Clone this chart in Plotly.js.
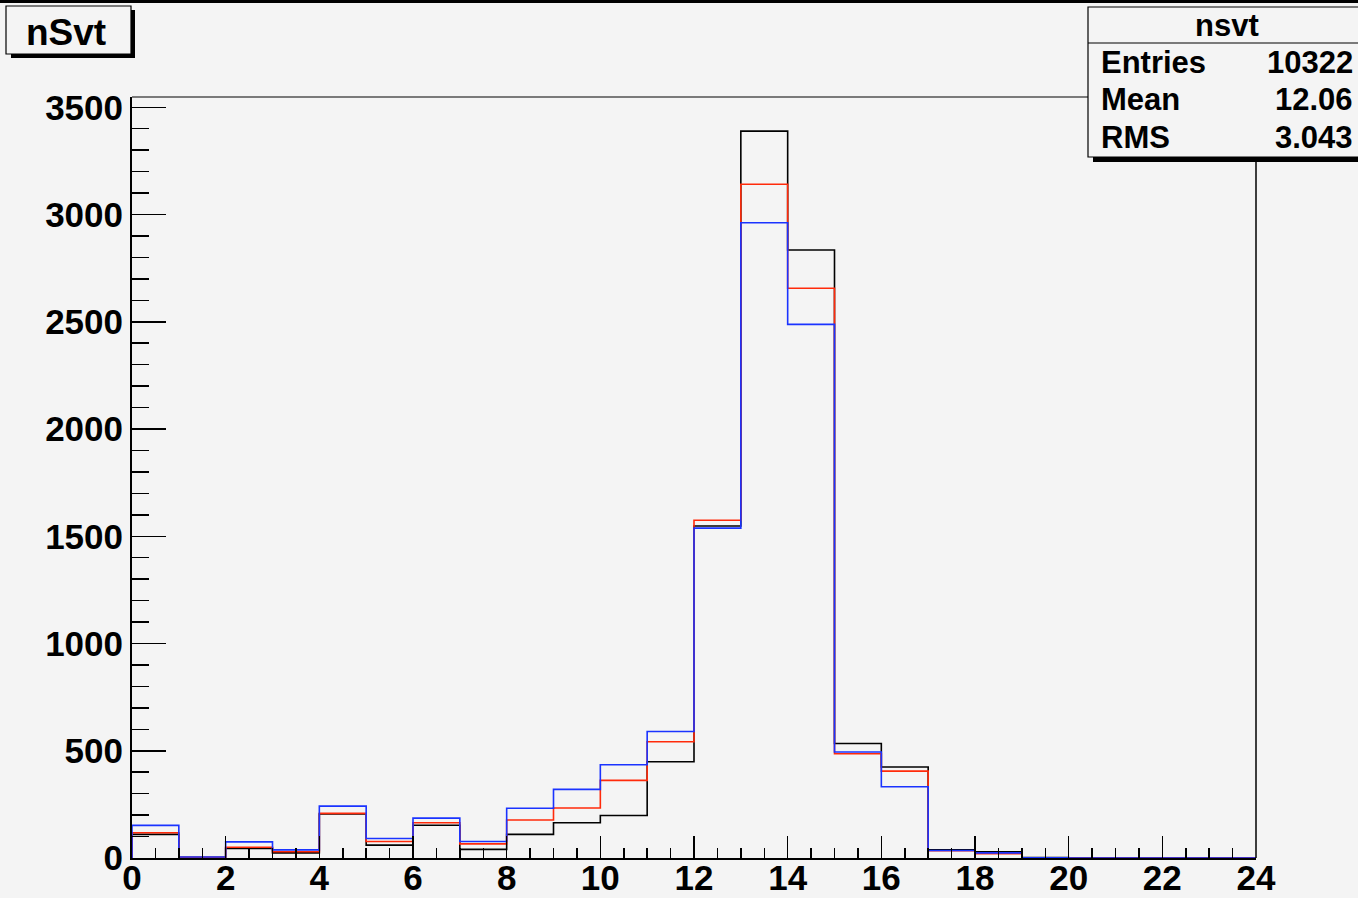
<!DOCTYPE html>
<html>
<head>
<meta charset="utf-8">
<script src="https://cdn.plot.ly/plotly-3.0.1.min.js"></script>
<style>html,body{margin:0;padding:0;background:#f4f4f4;}#chart{width:1358px;height:898px;}</style>
</head>
<body>
<div id="chart"></div>
<script>
// Bin edges (nSvt), 24 unit-width bins from 0 to 24
const binEdges = [0,1,2,3,4,5,6,7,8,9,10,11,12,13,14,15,16,17,18,19,20,21,22,23,24];
// Bin contents
const blackCounts = [110,2,45,24,205,60,153,40,110,164,198,449,1548,3389,2835,534,424,38,29,2,0,0,0,0];
const redCounts   = [118,3,50,29,208,77,164,66,177,233,362,542,1575,3141,2656,486,405,34,20,1,0,0,0,0];
const blueCounts  = [152,5,75,38,242,91,186,77,232,320,435,590,1538,2962,2488,494,332,35,24,1,0,0,0,0];
const seriesColors = ['#000000', '#ff2a0a', '#1a33ff'];
// Stat box
const statTitle = 'nsvt';
const statLabels = ['Entries', 'Mean', 'RMS'];
const statValues = ['10322', '12.06', '3.043'];
const histTitle = 'nSvt';

const W = 1358, H = 898;
const M = {l: 132, r: 102, t: 97, b: 40};
const PW = W - M.l - M.r, PH = H - M.t - M.b;
const px = p => (p - M.l) / PW;
const py = p => (H - M.b - p) / PH;

function stepTrace(counts, color) {
  const n = counts.length;
  const x = [binEdges[0]].concat(binEdges.slice(0, n)).concat([binEdges[n], binEdges[n]]);
  const y = [0].concat(counts).concat([counts[n - 1], 0]);
  return {x: x, y: y, type: 'scatter', mode: 'lines', line: {shape: 'hv', color: color, width: 1.6},
          cliponaxis: false, hoverinfo: 'skip', showlegend: false};
}

const traces = [
  stepTrace(blackCounts, seriesColors[0]),
  stepTrace(redCounts, seriesColors[1]),
  stepTrace(blueCounts, seriesColors[2])
];

const tickFont = {family: 'Liberation Sans, Arial, sans-serif', size: 35, color: '#000', weight: 'bold'};
const boxFont = {family: 'Liberation Sans, Arial, sans-serif', size: 31, color: '#000', weight: 'bold'};

const shapes = [
  // top black strip
  {type: 'rect', xref: 'paper', yref: 'paper', x0: px(0), x1: px(W), y0: py(0), y1: py(3), fillcolor: '#000', line: {width: 0}},
  // plot frame top and right
  {type: 'line', xref: 'paper', yref: 'paper', x0: 0, x1: 1, y0: 1, y1: 1, line: {color: '#000', width: 1.2}},
  {type: 'line', xref: 'paper', yref: 'paper', x0: 1, x1: 1, y0: 0, y1: 1, line: {color: '#000', width: 1.5}},
  // title box shadow + box
  {type: 'rect', xref: 'paper', yref: 'paper', x0: px(11), x1: px(135), y0: py(58), y1: py(10), fillcolor: '#000', line: {width: 0}},
  {type: 'rect', xref: 'paper', yref: 'paper', x0: px(6), x1: px(131), y0: py(54), y1: py(6), fillcolor: '#f4f4f4', line: {color: '#000', width: 1.2}},
  // stat box shadow + box
  {type: 'rect', xref: 'paper', yref: 'paper', x0: px(1093), x1: px(1370), y0: py(162), y1: py(12), fillcolor: '#000', line: {width: 0}},
  {type: 'rect', xref: 'paper', yref: 'paper', x0: px(1088), x1: px(1365), y0: py(157), y1: py(7), fillcolor: '#f4f4f4', line: {color: '#000', width: 1.2}},
  {type: 'line', xref: 'paper', yref: 'paper', x0: px(1088), x1: px(1365), y0: py(43), y1: py(43), line: {color: '#000', width: 1.2}}
];

const annotations = [
  {xref: 'paper', yref: 'paper', x: px(66), y: py(32), text: histTitle, showarrow: false, xanchor: 'center', yanchor: 'middle',
   font: {family: 'Liberation Sans, Arial, sans-serif', size: 37, color: '#000', weight: 'bold'}},
  {xref: 'paper', yref: 'paper', x: px(1227), y: py(25), text: statTitle, showarrow: false, xanchor: 'center', yanchor: 'middle', font: boxFont}
];
const rowY = [63, 100, 138];
statLabels.forEach((lab, i) => {
  annotations.push({xref: 'paper', yref: 'paper', x: px(1099), y: py(rowY[i]), text: lab, showarrow: false,
                    xanchor: 'left', yanchor: 'middle', font: boxFont});
  annotations.push({xref: 'paper', yref: 'paper', x: px(1355), y: py(rowY[i]), text: statValues[i], showarrow: false,
                    xanchor: 'right', yanchor: 'middle', font: boxFont});
});

const layout = {
  width: W, height: H,
  margin: M,
  paper_bgcolor: '#f4f4f4', plot_bgcolor: '#f4f4f4',
  showlegend: false,
  xaxis: {
    range: [0, 24], tickmode: 'linear', tick0: 0, dtick: 2,
    ticks: 'inside', ticklen: 22, tickwidth: 1.5, tickcolor: '#000',
    minor: {dtick: 0.5, ticks: 'inside', ticklen: 10, tickwidth: 1.5, tickcolor: '#000', showgrid: false},
    showline: true, linecolor: '#000', linewidth: 2, showgrid: false, zeroline: false,
    tickfont: tickFont, ticklabelstandoff: -12, fixedrange: true
  },
  yaxis: {
    range: [0, 3548], tickmode: 'linear', tick0: 0, dtick: 500,
    ticks: 'inside', ticklen: 34, tickwidth: 1.5, tickcolor: '#000',
    minor: {dtick: 100, ticks: 'inside', ticklen: 17, tickwidth: 1.5, tickcolor: '#000', showgrid: false},
    showline: true, linecolor: '#000', linewidth: 2, showgrid: false, zeroline: false,
    tickfont: tickFont, ticklabelstandoff: 0, fixedrange: true
  },
  shapes: shapes,
  annotations: annotations
};

Plotly.newPlot('chart', traces, layout, {staticPlot: true, displayModeBar: false});
</script>
</body>
</html>
